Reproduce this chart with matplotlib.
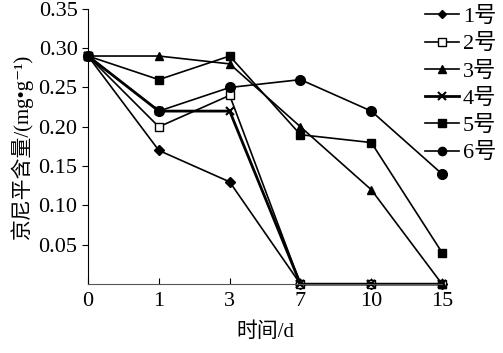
import matplotlib
matplotlib.use("Agg")
import matplotlib.pyplot as plt

plt.rcParams['font.family'] = ['Liberation Serif', 'Noto Sans CJK SC', 'DejaVu Serif']

days = ["0", "1", "3", "7", "10", "15"]
s1 = [0.29, 0.17, 0.13, 0.0, 0.0, 0.0]
s2 = [0.29, 0.20, 0.24, 0.0, 0.0, 0.0]
s3 = [0.29, 0.29, 0.28, 0.20, 0.12, 0.0]
s4 = [0.29, 0.22, 0.22, 0.0, 0.0, 0.0]
s5 = [0.29, 0.26, 0.29, 0.19, 0.18, 0.04]
s6 = [0.29, 0.22, 0.25, 0.26, 0.22, 0.14]
names = ["1号", "2号", "3号", "4号", "5号", "6号"]

fig = plt.figure(figsize=(5.03, 3.53), dpi=100)
ax = fig.add_axes([0.175, 0.195, 0.704, 0.78])
x = list(range(len(days)))
styles = [
    dict(marker='D', ms=5, mfc='black'),
    dict(marker='s', ms=6, mfc='white'),
    dict(marker='^', ms=6, mfc='black'),
    dict(marker='x', ms=6, mew=1.5, lw=2.0),
    dict(marker='s', ms=6, mfc='black'),
    dict(marker='o', ms=7, mfc='black'),
]
for s, n, st in zip([s1, s2, s3, s4, s5, s6], names, styles):
    kw = dict(color='black', mec='black', lw=1.2)
    kw.update(st)
    ax.plot(x, s, label=n, clip_on=False, **kw)

ax.set_xlim(0, 5)
ax.set_ylim(0, 0.35)
ax.set_xticks(x)
ax.set_xticklabels(days)
ax.set_yticks([0.05, 0.10, 0.15, 0.20, 0.25, 0.30, 0.35])
ax.set_yticklabels(["0.05", "0.10", "0.15", "0.20", "0.25", "0.30", "0.35"])
ax.tick_params(axis='x', direction='in', length=4, labelsize=16, pad=6)
ax.tick_params(axis='y', direction='out', length=4, labelsize=16)
for sp in ['top', 'right']:
    ax.spines[sp].set_visible(False)
ax.spines['bottom'].set_color('#555555')
ax.set_xlabel("时间/d", fontsize=15, labelpad=8)
ax.set_ylabel("京尼平含量/(mg•g⁻¹)", fontsize=15, labelpad=4)

leg = fig.legend(loc='upper right', bbox_to_anchor=(1.0, 1.0), frameon=False,
                 fontsize=16, handlelength=1.5, handletextpad=0.2,
                 labelspacing=0.3, borderaxespad=0.0, borderpad=0.3,
                 markerscale=0.85)
fig.savefig("out.png", dpi=100)
